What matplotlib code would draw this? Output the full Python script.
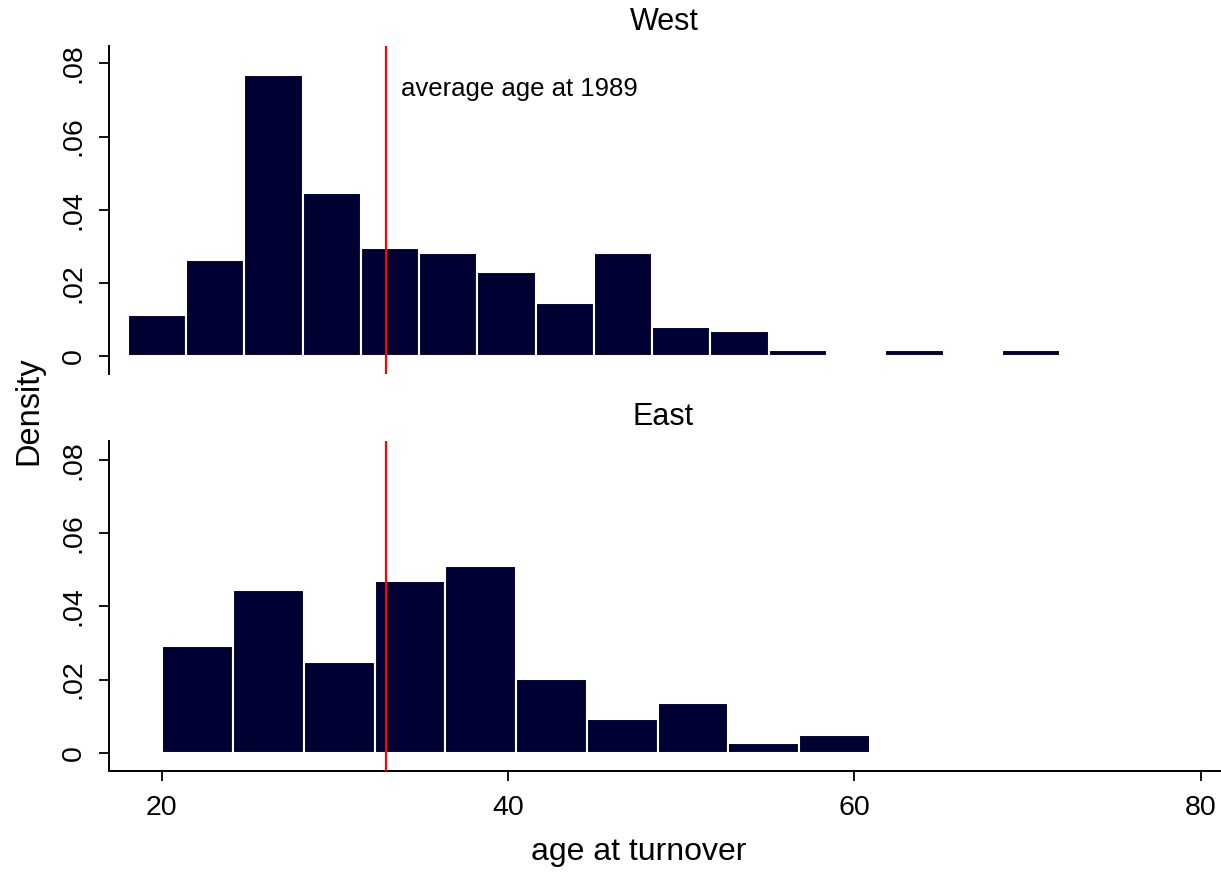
import numpy as np
import matplotlib.pyplot as plt

plt.rcParams["font.family"] = ["Liberation Sans", "DejaVu Sans"]

# histogram densities
west_start = 18.04
west_width = 3.365
west_density = [0.0113, 0.0263, 0.0767, 0.0446, 0.0295, 0.0283, 0.0230, 0.0145,
                0.0283, 0.0079, 0.0068, 0.0017, 0.0, 0.0017, 0.0, 0.0017]

east_start = 20.04
east_width = 4.086
east_density = [0.0291, 0.0446, 0.0247, 0.0469, 0.0511, 0.0201, 0.0092, 0.0136,
                0.0027, 0.0048]

avg_age_1989 = 32.93
yticks = [0, 0.02, 0.04, 0.06, 0.08]
ytick_labels = ["0", ".02", ".04", ".06", ".08"]
xticks = [20, 40, 60, 80]

W, H = 1221, 872
fig = plt.figure(figsize=(W / 100, H / 100), dpi=100)

bar_color = "#000033"


def px_axes(left, top, right, bottom):
    return fig.add_axes([left / W, 1 - bottom / H, (right - left) / W, (bottom - top) / H])


ax_w = px_axes(109, 46, 1221, 374)
ax_e = px_axes(109, 441, 1221, 771)

panels = [
    (ax_w, west_start, west_width, west_density, (-0.0048, 0.0847)),
    (ax_e, east_start, east_width, east_density, (-0.0050, 0.0852)),
]

for ax, start, width, dens, ylim in panels:
    lefts = start + width * np.arange(len(dens))
    ax.bar(lefts, dens, width=width, align="edge", color=bar_color,
           edgecolor="white", linewidth=1.5, zorder=2)
    ax.axvline(avg_age_1989, color="red", lw=1.6, zorder=3)
    ax.set_xlim(16.96, 81.17)
    ax.set_ylim(*ylim)
    ax.set_yticks(yticks)
    ax.set_yticklabels(ytick_labels, rotation=90, va="center")
    for s in ["top", "right"]:
        ax.spines[s].set_visible(False)
    ax.spines["left"].set_linewidth(1.4)
    ax.spines["bottom"].set_linewidth(1.4)
    ax.tick_params(axis="y", length=7, width=1.3, pad=9, labelsize=20.5)
    ax.tick_params(axis="x", length=7.5, width=1.3, pad=10, labelsize=20.5)

ax_w.spines["bottom"].set_visible(False)
ax_w.set_xticks([])
ax_e.set_xticks(xticks)

ax_w.text(33.8, 0.073, "average age at 1989", fontsize=18.5, va="center", ha="left")

fig.text(664 / W, 1 - 22 / H, "West", fontsize=22, ha="center", va="center")
fig.text(663 / W, 1 - 417 / H, "East", fontsize=22, ha="center", va="center")
fig.text(639 / W, 1 - 852 / H, "age at turnover", fontsize=23, ha="center", va="center")
fig.text(29 / W, 1 - 411 / H, "Density", fontsize=23.5, ha="center", va="center",
         rotation=90)

fig.savefig("out.png", dpi=100)
